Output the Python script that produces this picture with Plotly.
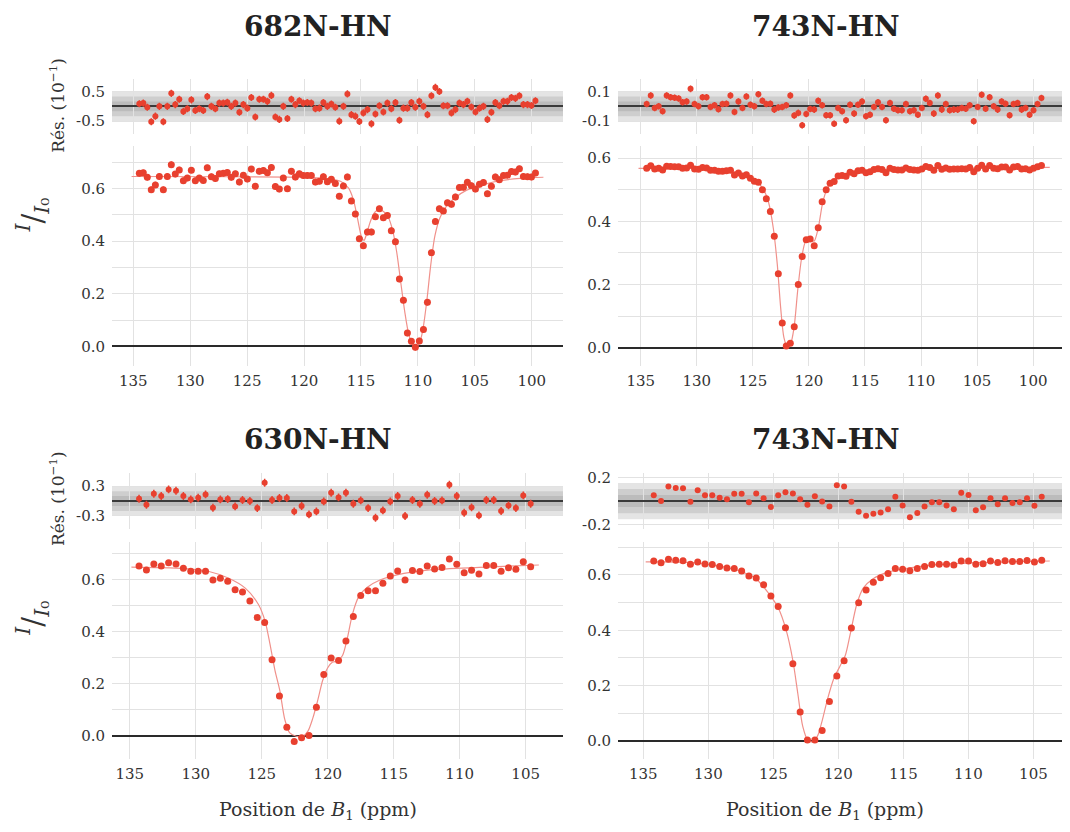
import plotly.graph_objects as go

FONT = "DejaVu Serif"
RED = "#e8402f"
FITC = "#f0918b"
GRID = "#e2e2e2"
TXT = "#333333"

titles = ["682N-HN", "743N-HN", "630N-HN", "743N-HN"]

# ---------------- panel 1 : 682N-HN ----------------
x1 = [134.47, 134.12, 133.77, 133.42, 133.06, 132.71, 132.36, 132.01, 131.66, 131.31,
      130.96, 130.60, 130.25, 129.90, 129.55, 129.20, 128.85, 128.50, 128.14, 127.79,
      127.44, 127.09, 126.74, 126.39, 126.03, 125.68, 125.33, 124.98, 124.63, 124.28,
      123.93, 123.57, 123.22, 122.87, 122.52, 122.17, 121.82, 121.46, 121.11, 120.76,
      120.41, 120.06, 119.71, 119.36, 119.00, 118.65, 118.30, 117.95, 117.60, 117.25,
      116.90, 116.54, 116.19, 115.84, 115.49, 115.14, 114.79, 114.43, 114.08, 113.73,
      113.38, 113.03, 112.68, 112.33, 111.97, 111.62, 111.27, 110.92, 110.57, 110.22,
      109.87, 109.51, 109.16, 108.81, 108.46, 108.11, 107.76, 107.40, 107.05, 106.70,
      106.35, 106.00, 105.65, 105.30, 104.94, 104.59, 104.24, 103.89, 103.54, 103.19,
      102.84, 102.48, 102.13, 101.78, 101.43, 101.08, 100.73, 100.37, 100.02, 99.67]
y1 = [0.658, 0.660, 0.643, 0.596, 0.614, 0.646, 0.596, 0.646, 0.691, 0.655,
      0.671, 0.630, 0.640, 0.670, 0.630, 0.640, 0.631, 0.679, 0.645, 0.638,
      0.656, 0.658, 0.661, 0.643, 0.656, 0.625, 0.651, 0.636, 0.674, 0.609,
      0.666, 0.669, 0.660, 0.680, 0.608, 0.598, 0.640, 0.599, 0.666, 0.644,
      0.656, 0.650, 0.650, 0.650, 0.625, 0.628, 0.645, 0.626, 0.635, 0.619,
      0.571, 0.610, 0.644, 0.553, 0.503, 0.409, 0.383, 0.435, 0.435, 0.493,
      0.523, 0.489, 0.498, 0.440, 0.398, 0.256, 0.176, 0.051, 0.020, -0.003,
      0.021, 0.064, 0.168, 0.356, 0.475, 0.523, 0.515, 0.546, 0.540, 0.568,
      0.604, 0.605, 0.624, 0.611, 0.598, 0.616, 0.623, 0.580, 0.609, 0.644,
      0.634, 0.650, 0.651, 0.665, 0.663, 0.675, 0.646, 0.645, 0.644, 0.659]
r1 = [0.09, 0.11, -0.03, -0.52, -0.33, 0.00, -0.52, 0.00, 0.44, 0.06,
      0.24, -0.17, -0.08, 0.22, -0.14, -0.08, -0.14, 0.33, 0.00, -0.08,
      0.11, 0.11, 0.14, 0.00, 0.11, -0.20, 0.06, -0.06, 0.30, -0.36,
      0.24, 0.24, 0.17, 0.37, -0.36, -0.44, 0.00, -0.41, 0.24, 0.06,
      0.19, 0.11, 0.13, 0.11, -0.08, -0.06, 0.13, 0.00, 0.08, -0.03,
      -0.50, 0.00, 0.42, -0.28, -0.33, -0.51, -0.22, -0.11, -0.59, -0.26,
      0.02, -0.19, 0.11, -0.08, 0.13, -0.47, -0.06, -0.06, 0.13, -0.03,
      0.17, 0.00, -0.28, 0.36, 0.64, 0.50, 0.02, 0.02, -0.22, -0.11,
      0.11, 0.06, 0.17, -0.02, -0.19, -0.06, 0.00, -0.44, -0.20, 0.13,
      0.02, 0.17, 0.17, 0.30, 0.27, 0.36, 0.06, 0.06, 0.03, 0.19]
fx1 = [135.15, 126.2, 118.9, 116.8, 116.1, 115.67, 115.29, 114.94, 114.73, 114.5,
       114.15, 113.76, 113.38, 112.97, 112.59, 112.21, 111.86, 111.51, 111.16, 110.8,
       110.45, 110.19, 109.87, 109.58, 109.22, 108.87, 108.5, 108.05, 107.47, 106.73,
       105.71, 104.24, 102.78, 101.02, 98.97]
fy1 = [0.646, 0.645, 0.641, 0.628, 0.603, 0.559, 0.484, 0.415, 0.403, 0.428,
       0.478, 0.511, 0.521, 0.511, 0.490, 0.440, 0.359, 0.246, 0.134, 0.046,
       0.006, -0.002, 0.011, 0.059, 0.171, 0.309, 0.421, 0.490, 0.534, 0.565,
       0.594, 0.615, 0.630, 0.639, 0.643]

# ---------------- panel 2 : 743N-HN ----------------
x2 = [134.47, 134.11, 133.76, 133.40, 133.05, 132.69, 132.34, 131.98, 131.62, 131.27,
      130.91, 130.56, 130.20, 129.85, 129.49, 129.13, 128.78, 128.42, 128.07, 127.71,
      127.36, 127.00, 126.64, 126.29, 125.93, 125.58, 125.22, 124.87, 124.51, 124.15,
      123.80, 123.44, 123.09, 122.73, 122.38, 122.02, 121.66, 121.31, 120.95, 120.60,
      120.24, 119.89, 119.53, 119.17, 118.82, 118.46, 118.11, 117.75, 117.40, 117.04,
      116.69, 116.33, 115.97, 115.62, 115.26, 114.91, 114.55, 114.20, 113.84, 113.48,
      113.13, 112.77, 112.42, 112.06, 111.71, 111.35, 110.99, 110.64, 110.28, 109.93,
      109.57, 109.22, 108.86, 108.50, 108.15, 107.79, 107.44, 107.08, 106.73, 106.37,
      106.01, 105.66, 105.30, 104.95, 104.59, 104.24, 103.88, 103.52, 103.17, 102.81,
      102.46, 102.10, 101.75, 101.39, 101.03, 100.68, 100.32, 99.97, 99.61, 99.26]
y2 = [0.568, 0.576, 0.566, 0.568, 0.563, 0.575, 0.574, 0.573, 0.573, 0.568,
      0.569, 0.578, 0.566, 0.565, 0.571, 0.569, 0.562, 0.562, 0.559, 0.559,
      0.560, 0.562, 0.547, 0.553, 0.544, 0.548, 0.537, 0.527, 0.524, 0.500,
      0.472, 0.431, 0.353, 0.234, 0.078, 0.005, 0.014, 0.066, 0.200, 0.289,
      0.342, 0.344, 0.323, 0.380, 0.462, 0.500, 0.521, 0.526, 0.544, 0.545,
      0.543, 0.556, 0.551, 0.560, 0.562, 0.554, 0.557, 0.564, 0.567, 0.564,
      0.554, 0.568, 0.564, 0.563, 0.563, 0.569, 0.564, 0.563, 0.562, 0.566,
      0.574, 0.571, 0.562, 0.577, 0.565, 0.569, 0.565, 0.566, 0.566, 0.567,
      0.566, 0.571, 0.557, 0.568, 0.578, 0.566, 0.577, 0.568, 0.567, 0.572,
      0.572, 0.563, 0.572, 0.574, 0.566, 0.567, 0.563, 0.568, 0.573, 0.577]
r2 = [0.016, 0.073, -0.011, 0.000, -0.033, 0.073, 0.062, 0.058, 0.053, 0.027,
      0.033, 0.118, 0.016, 0.000, 0.062, 0.062, -0.004, 0.007, -0.020, 0.016,
      0.018, 0.073, -0.038, 0.033, -0.011, 0.067, 0.011, 0.000, 0.082, 0.038,
      0.016, 0.018, -0.022, -0.007, -0.004, 0.007, 0.073, -0.062, -0.044, -0.127,
      -0.051, -0.018, -0.022, 0.038, 0.007, -0.060, -0.060, -0.118, -0.011, -0.033,
      -0.093, 0.011, -0.049, 0.011, 0.033, -0.067, -0.056, -0.004, 0.027, -0.004,
      -0.093, 0.022, -0.016, -0.027, -0.027, 0.016, -0.033, -0.027, -0.056, -0.011,
      0.051, 0.022, -0.049, 0.073, -0.022, 0.016, -0.027, -0.022, -0.022, -0.011,
      -0.016, 0.007, -0.100, -0.004, 0.078, -0.016, 0.062, 0.000, -0.022, 0.033,
      0.018, -0.060, 0.016, 0.022, -0.022, -0.011, -0.056, -0.027, 0.016, 0.056]
fx2 = [135.2, 129.7, 127.3, 125.85, 124.66, 124.07, 123.62, 123.18, 122.82, 122.52,
       122.23, 121.93, 121.63, 121.33, 120.98, 120.65, 120.29, 119.91, 119.55, 119.17,
       118.78, 118.36, 117.83, 116.94, 115.45, 113.37, 108.92, 98.52]
fy2 = [0.568, 0.568, 0.561, 0.547, 0.526, 0.502, 0.463, 0.379, 0.263, 0.126,
       0.032, 0.003, 0.013, 0.063, 0.189, 0.284, 0.337, 0.345, 0.337, 0.379,
       0.458, 0.505, 0.528, 0.545, 0.558, 0.564, 0.568, 0.571]

# ---------------- panel 3 : 630N-HN ----------------
x3 = [134.30, 133.74, 133.18, 132.62, 132.06, 131.50, 130.94, 130.38, 129.82, 129.26,
      128.70, 128.14, 127.58, 127.02, 126.46, 125.90, 125.34, 124.78, 124.22, 123.66,
      123.10, 122.54, 121.98, 121.42, 120.86, 120.30, 119.74, 119.18, 118.62, 118.06,
      117.50, 116.94, 116.38, 115.82, 115.26, 114.70, 114.14, 113.58, 113.02, 112.46,
      111.90, 111.34, 110.78, 110.22, 109.66, 109.10, 108.54, 107.98, 107.42, 106.86,
      106.30, 105.74, 105.18, 104.62]
y3 = [0.653, 0.638, 0.661, 0.653, 0.666, 0.661, 0.644, 0.633, 0.633, 0.633,
      0.599, 0.606, 0.594, 0.562, 0.553, 0.518, 0.455, 0.435, 0.292, 0.152,
      0.032, -0.023, -0.009, 0.000, 0.109, 0.235, 0.299, 0.289, 0.364, 0.459,
      0.539, 0.558, 0.558, 0.587, 0.615, 0.634, 0.599, 0.636, 0.632, 0.653,
      0.642, 0.647, 0.680, 0.660, 0.627, 0.637, 0.622, 0.655, 0.655, 0.633,
      0.646, 0.641, 0.669, 0.650]
r3 = [0.047, -0.074, 0.148, 0.101, 0.236, 0.209, 0.101, 0.034, 0.067, 0.135,
      -0.135, 0.034, 0.040, -0.108, 0.020, 0.000, -0.142, 0.371, 0.020, 0.061,
      0.061, -0.209, -0.101, -0.270, -0.209, -0.007, 0.169, 0.074, 0.169, -0.054,
      0.013, -0.142, -0.337, -0.189, -0.007, 0.101, -0.303, 0.020, -0.054, 0.128,
      0.000, 0.013, 0.330, 0.101, -0.236, -0.128, -0.290, 0.020, 0.020, -0.202,
      -0.088, -0.142, 0.115, -0.054]
fx3 = [134.88, 131.0, 129.0, 127.5, 126.25, 125.25, 124.75, 124.38, 124.0, 123.63,
       123.25, 122.88, 122.38, 121.88, 121.5, 121.13, 120.75, 120.38, 120.0, 119.63,
       119.25, 118.88, 118.5, 118.13, 117.63, 117.0, 116.0, 114.75, 112.25, 108.5, 104.0]
fy3 = [0.649, 0.644, 0.632, 0.606, 0.568, 0.505, 0.441, 0.353, 0.251, 0.173,
       0.061, 0.010, -0.003, -0.003, 0.017, 0.067, 0.137, 0.213, 0.261, 0.283,
       0.287, 0.308, 0.378, 0.467, 0.537, 0.571, 0.600, 0.619, 0.638, 0.648, 0.657]

# ---------------- panel 4 : 743N-HN ----------------
x4 = [134.20, 133.64, 133.07, 132.51, 131.95, 131.38, 130.82, 130.26, 129.70, 129.13,
      128.57, 128.01, 127.44, 126.88, 126.32, 125.75, 125.19, 124.63, 124.07, 123.50,
      122.94, 122.38, 121.81, 121.25, 120.69, 120.12, 119.56, 119.00, 118.44, 117.87,
      117.31, 116.75, 116.18, 115.62, 115.06, 114.50, 113.93, 113.37, 112.81, 112.24,
      111.68, 111.12, 110.55, 109.99, 109.43, 108.87, 108.30, 107.74, 107.18, 106.61,
      106.05, 105.49, 104.92, 104.36]
y4 = [0.650, 0.644, 0.656, 0.653, 0.651, 0.638, 0.646, 0.639, 0.637, 0.630,
      0.625, 0.623, 0.614, 0.596, 0.589, 0.564, 0.524, 0.486, 0.409, 0.279,
      0.105, 0.004, 0.004, 0.038, 0.143, 0.235, 0.290, 0.408, 0.499, 0.545,
      0.573, 0.590, 0.605, 0.623, 0.620, 0.615, 0.623, 0.630, 0.637, 0.638,
      0.638, 0.636, 0.650, 0.650, 0.638, 0.640, 0.650, 0.645, 0.651, 0.648,
      0.648, 0.652, 0.646, 0.653]
r4 = [0.048, 0.000, 0.123, 0.109, 0.107, -0.005, 0.091, 0.048, 0.048, 0.027,
      0.016, 0.061, 0.061, -0.011, 0.064, 0.024, -0.051, 0.048, 0.075, 0.064,
      0.016, -0.032, 0.040, -0.003, -0.045, 0.133, 0.123, -0.005, -0.091, -0.123,
      -0.107, -0.096, -0.069, 0.037, -0.037, -0.136, -0.101, -0.045, -0.011, -0.011,
      -0.037, -0.069, 0.069, 0.051, -0.077, -0.053, 0.024, -0.027, 0.024, -0.016,
      -0.011, 0.024, -0.040, 0.037]
fx4 = [134.82, 131.43, 129.41, 127.65, 126.39, 125.39, 124.63, 124.0, 123.5, 123.12,
       122.74, 122.36, 121.99, 121.61, 121.23, 120.85, 120.35, 119.85, 119.47, 119.09,
       118.59, 118.09, 117.33, 116.32, 115.07, 112.55, 108.77, 103.74]
fy4 = [0.647, 0.645, 0.633, 0.615, 0.588, 0.535, 0.481, 0.398, 0.291, 0.172,
       0.053, 0.004, -0.002, 0.018, 0.077, 0.149, 0.226, 0.273, 0.309, 0.386,
       0.493, 0.552, 0.586, 0.608, 0.621, 0.636, 0.645, 0.650]

# uncertainties (main in I/I0, residual in 1e-1 units) and residual sigma
main_err = [0.012, 0.003, 0.008, 0.003]
res_err = [0.12, 0.022, 0.08, 0.019]
res_sigma = [0.167, 0.0333, 0.1, 0.051]
res_ticks = [0.5, 0.1, 0.3, 0.2]

xtick_top = [135, 130, 125, 120, 115, 110, 105, 100]
xtick_bot = [135, 130, 125, 120, 115, 110, 105]
ytick_main = [0.0, 0.2, 0.4, 0.6]

data = [(x1, y1, r1, fx1, fy1), (x2, y2, r2, fx2, fy2),
        (x3, y3, r3, fx3, fy3), (x4, y4, r4, fx4, fy4)]

# ---- layout geometry: target pixel boxes (page has an 8px body margin) ----
W, H, OFF = 1070, 832, 8


def px(v):
    return (v - OFF) / W


def py(v):
    return 1 - (v - OFF) / H


xbox = [(112, 563), (618, 1078), (112, 563), (618, 1078)]
main_ybox = [(143, 365), (143, 365), (543, 763), (543, 763)]
res_ybox = [(75, 130), (75, 130), (474, 530), (474, 530)]

xrng = [[136.87, 97.25], [137.03, 96.0], [136.35, 102.17], [136.95, 101.57]]
main_yrng = [[-0.0732, 0.7604], [-0.0573, 0.6376], [-0.0902, 0.7472], [-0.0642, 0.7201]]
res_yrng = [[-0.9167, 0.9167], [-0.1833, 0.1833], [-0.56, 0.56], [-0.233, 0.233]]

fig = go.Figure()
layout = {}
shapes = []
tickfont = dict(family=FONT, size=15, color=TXT)

for k, (xs, ys, rs, fxs, fys) in enumerate(data):
    mi = 2 * k + 1
    ri = 2 * k + 2
    mx, my = f"x{mi}", f"y{mi}"
    rx, ry = f"x{ri}", f"y{ri}"
    fig.add_trace(go.Scatter(x=fxs, y=fys, mode="lines",
                             line=dict(color=FITC, width=1.2, shape="spline", smoothing=0.8),
                             xaxis=mx, yaxis=my, showlegend=False, hoverinfo="skip"))
    fig.add_trace(go.Scatter(x=xs, y=ys, mode="markers", marker=dict(color=RED, size=7),
                             error_y=dict(type="constant", value=main_err[k], color=RED, thickness=1.5, width=0),
                             xaxis=mx, yaxis=my, showlegend=False))
    fig.add_trace(go.Scatter(x=xs, y=rs, mode="markers", marker=dict(color=RED, size=6),
                             error_y=dict(type="constant", value=res_err[k], color=RED, thickness=1.5, width=0),
                             xaxis=rx, yaxis=ry, showlegend=False))
    xt = xtick_top if k < 2 else xtick_bot
    xd = [px(xbox[k][0]), min(1.0, px(xbox[k][1]))]
    common_x = dict(domain=xd, range=xrng[k], showgrid=True, gridcolor=GRID, gridwidth=1,
                    zeroline=False, showline=False, ticks="", tickvals=xt)
    layout[f"xaxis{mi}"] = dict(common_x, anchor=my, tickfont=tickfont,
                                ticktext=[str(v) for v in xt], ticklabelstandoff=4)
    layout[f"xaxis{ri}"] = dict(common_x, anchor=ry, showticklabels=False)
    layout[f"yaxis{mi}"] = dict(domain=[py(main_ybox[k][1]), py(main_ybox[k][0])], range=main_yrng[k],
                                anchor=mx, tickvals=ytick_main,
                                ticktext=[f"{v:.1f}" for v in ytick_main],
                                tickfont=tickfont, showgrid=True, gridcolor=GRID, gridwidth=1,
                                minor=dict(dtick=0.1, tick0=0, showgrid=True, gridcolor=GRID, gridwidth=1),
                                zeroline=True, zerolinecolor="#2a2a2a", zerolinewidth=1.5,
                                showline=False, ticks="", ticklabelstandoff=6)
    t = res_ticks[k]
    layout[f"yaxis{ri}"] = dict(domain=[py(res_ybox[k][1]), py(res_ybox[k][0])], range=res_yrng[k],
                                anchor=rx, tickvals=[t, -t], ticktext=[f"{t:g}", f"-{t:g}"],
                                tickfont=tickfont, showgrid=True, gridcolor=GRID, gridwidth=1,
                                zeroline=True, zerolinecolor="#3a3a3a", zerolinewidth=1.5,
                                showline=False, ticks="", ticklabelstandoff=6)
    s = res_sigma[k]
    for n in (3, 2, 1):
        shapes.append(dict(type="rect", xref=f"{rx} domain", yref=ry, x0=0, x1=1,
                           y0=-n * s, y1=n * s, fillcolor="rgba(120,120,120,0.2)",
                           line=dict(width=0), layer="below"))

annotations = []
title_pos = [(318, 22), (826, 22), (318, 440), (826, 440)]
for k, (tx, ty) in enumerate(title_pos):
    annotations.append(dict(text=f"<b>{titles[k]}</b>", x=px(tx), y=py(ty), xref="paper", yref="paper",
                            showarrow=False, xanchor="center", yanchor="middle",
                            font=dict(family=FONT, size=28, color="#222222")))
for tx in (318, 825):
    annotations.append(dict(text="Position de <i>B</i><sub>1</sub> (ppm)", x=px(tx), y=py(815),
                            xref="paper", yref="paper", showarrow=False,
                            xanchor="center", yanchor="middle",
                            font=dict(family=FONT, size=19, color=TXT)))
for ty in (212, 620):
    annotations.append(dict(text="<sup><i>I</i></sup>/<sub><i>I</i>₀</sub>", x=px(32), y=py(ty),
                            xref="paper", yref="paper", showarrow=False, textangle=-90,
                            xanchor="center", yanchor="middle",
                            font=dict(family=FONT, size=29, color=TXT)))
for ty in (102, 500):
    annotations.append(dict(text="Rés. (10<sup>−1</sup>)", x=px(57), y=py(ty),
                            xref="paper", yref="paper", showarrow=False, textangle=-90,
                            xanchor="center", yanchor="middle",
                            font=dict(family=FONT, size=17, color=TXT)))

fig.update_layout(width=W, height=H, margin=dict(l=0, r=0, t=0, b=0),
                  paper_bgcolor="white", plot_bgcolor="white",
                  font=dict(family=FONT, color=TXT), showlegend=False,
                  shapes=shapes, annotations=annotations, **layout)

fig.write_html("out.html")
